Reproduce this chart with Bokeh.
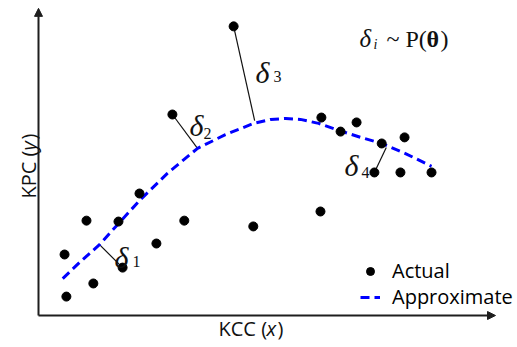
from bokeh.plotting import figure
from bokeh.models import Range1d, Label, Arrow, NormalHead, Legend, LegendItem
from bokeh.embed import file_html
from bokeh.resources import INLINE

# ---------------- data ----------------
actual_kcc = [0.61, 1.20, 0.57, 1.84, 1.05, 1.75, 2.21, 2.58, 3.19, 4.70, 6.17,
              2.93, 4.27, 6.19, 6.61, 6.96, 7.51, 8.01, 7.35, 7.92, 8.60]
actual_kpc = [0.62, 1.05, 2.00, 1.57, 3.11, 3.08, 4.00, 2.36, 3.11, 2.92, 3.41,
              6.59, 9.48, 6.49, 6.03, 6.33, 5.64, 5.84, 4.69, 4.69, 4.69]

approx_kcc = [0.53, 0.92, 1.34, 1.79, 2.23, 2.82, 3.48, 4.09, 4.71, 5.08, 5.41,
              5.73, 6.13, 6.57, 7.05, 7.51, 8.03, 8.60]
approx_kpc = [1.21, 1.77, 2.33, 3.08, 3.80, 4.66, 5.48, 5.93, 6.30, 6.43, 6.46,
              6.43, 6.30, 6.07, 5.84, 5.64, 5.31, 4.89]

delta_names = ["1", "2", "3", "4"]
delta_point = [3, 11, 12, 18]          # index of the actual point
delta_foot_kcc = [1.33, 3.48, 4.73, 7.61]
delta_foot_kpc = [2.33, 5.48, 6.39, 5.51]

axis_end_kcc = 10.0
axis_end_kpc = 10.07

x_label = ["KCC (", "x", ")"]
y_label = ["KPC (", "y", ")"]
legend_labels = ["Actual", "Approximate"]

# ---------------- layout ----------------
W, H = 517, 347
X0_PX, Y0_PX = 38, 315
SX, SY = 45.7, 30.5


def ux(px):
    return (px - X0_PX) / SX


def uy(py):
    return (Y0_PX - py) / SY


p = figure(width=W, height=H, output_backend="svg", toolbar_location=None,
           x_range=Range1d(-X0_PX / SX, (W - X0_PX) / SX),
           y_range=Range1d(-(H - Y0_PX) / SY, Y0_PX / SY),
           x_axis_location=None, y_axis_location=None,
           min_border=0, outline_line_color=None)
p.grid.visible = False
p.background_fill_color = "white"
p.border_fill_color = "white"

AX = "#1e1e1e"
p.add_layout(Arrow(x_start=0, y_start=0, x_end=axis_end_kcc, y_end=0,
                   line_width=2, line_color=AX,
                   end=NormalHead(size=8, fill_color=AX, line_color=AX, line_width=1)))
p.add_layout(Arrow(x_start=0, y_start=0, x_end=0, y_end=axis_end_kpc,
                   line_width=2, line_color=AX,
                   end=NormalHead(size=8, fill_color=AX, line_color=AX, line_width=1)))

# residual segments
p.segment(x0=[actual_kcc[i] for i in delta_point],
          y0=[actual_kpc[i] for i in delta_point],
          x1=delta_foot_kcc, y1=delta_foot_kpc,
          line_color="#111111", line_width=1.2)

r_approx = p.line(approx_kcc, approx_kpc, line_color="#0000ff",
                  line_width=3, line_dash="9 5")
r_actual = p.scatter(actual_kcc, actual_kpc, marker="circle", size=9,
                     fill_color="black", line_color="black")

TXT = "#111111"
# delta labels
SERIF = "Liberation Serif"
delta_pos = [(114, 257, 132, 261), (189, 125, 203, 133),
             (255, 72, 273, 76), (344, 165, 361, 172)]
for name, (a, b, c, d) in zip(delta_names, delta_pos):
    p.add_layout(Label(x=ux(a), y=uy(b), text="δ", text_font=SERIF,
                       text_font_style="italic", text_font_size="30px",
                       text_baseline="alphabetic", text_align="left",
                       text_color=TXT))
    p.add_layout(Label(x=ux(c), y=uy(d), text=name, text_font=SERIF,
                       text_font_size="16px", text_baseline="alphabetic",
                       text_align="left", text_color=TXT))

# formula  δ_i ~ P(θ)
p.add_layout(Label(x=ux(359), y=uy(38), text="δ", text_font=SERIF,
                   text_font_style="italic", text_font_size="25px",
                   text_baseline="alphabetic", text_color=TXT))
p.add_layout(Label(x=ux(373), y=uy(44), text="i", text_font=SERIF,
                   text_font_style="italic", text_font_size="14px",
                   text_baseline="alphabetic", text_color=TXT))
p.add_layout(Label(x=ux(386), y=uy(38), text="~ P(", text_font=SERIF,
                   text_font_size="24px", text_baseline="alphabetic",
                   text_color=TXT))
p.add_layout(Label(x=ux(426), y=uy(38), text="θ", text_font=SERIF,
                   text_font_style="bold", text_font_size="24px",
                   text_baseline="alphabetic", text_color=TXT))
p.add_layout(Label(x=ux(440), y=uy(38), text=")", text_font=SERIF,
                   text_font_size="24px", text_baseline="alphabetic",
                   text_color=TXT))

# axis labels
SANS = "Open Sans"
FS = "20px"
XM = 328
p.add_layout(Label(x=ux(218), y=uy(XM), text=x_label[0], text_font=SANS,
                   text_font_size=FS, text_baseline="middle", text_color=TXT))
p.add_layout(Label(x=ux(266), y=uy(XM), text=x_label[1], text_font=SANS,
                   text_font_style="italic", text_font_size=FS,
                   text_baseline="middle", text_color=TXT))
p.add_layout(Label(x=ux(277), y=uy(XM), text=x_label[2], text_font=SANS,
                   text_font_size=FS, text_baseline="middle", text_color=TXT))

p.add_layout(Label(x=ux(28), y=uy(198), text=y_label[0], text_font=SANS,
                   text_font_size=FS, text_baseline="alphabetic", text_color=TXT,
                   angle=90, angle_units="deg"))
p.add_layout(Label(x=ux(28), y=uy(150), text=y_label[1], text_font=SANS,
                   text_font_style="italic", text_font_size=FS, text_color=TXT,
                   text_baseline="alphabetic", angle=90, angle_units="deg"))
p.add_layout(Label(x=ux(28), y=uy(139), text=y_label[2], text_font=SANS,
                   text_font_size=FS, text_baseline="alphabetic", text_color=TXT,
                   angle=90, angle_units="deg"))

# legends
common = dict(glyph_width=20, glyph_height=20, label_standoff=12, padding=0,
              margin=0, border_line_color=None, background_fill_alpha=0,
              label_text_font=SANS, label_text_font_size="20px",
              label_text_color="black")
p.add_layout(Legend(items=[LegendItem(label=legend_labels[0], renderers=[r_actual])],
                    location=(360, 63), **common))
p.add_layout(Legend(items=[LegendItem(label=legend_labels[1], renderers=[r_approx])],
                    location=(360, 37), **common))

open("out.html", "w").write(file_html(p, INLINE))
